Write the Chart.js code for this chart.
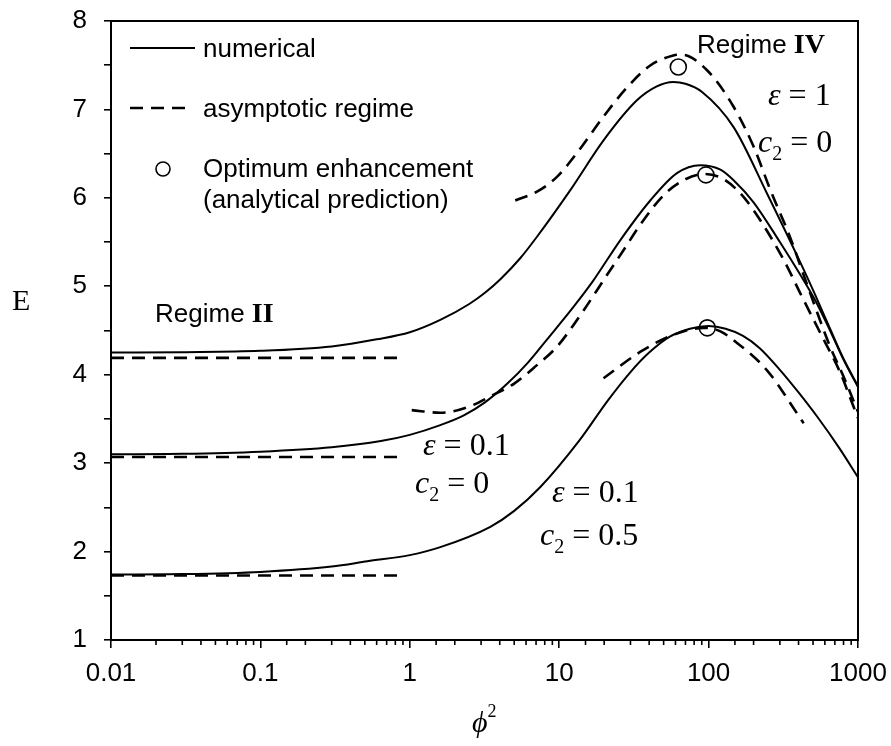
<!DOCTYPE html>
<html lang="en">
<head>
<meta charset="UTF-8">
<title>E vs phi^2</title>
<script src="https://cdn.jsdelivr.net/npm/chart.js@4.4.1/dist/chart.umd.min.js"></script>
<style>
    body { margin: 0; background: #fff; }
    .wrap { width: 891px; height: 746px; position: relative; }
</style>
</head>
<body>
<div class="wrap"><canvas id="chart"></canvas></div>
<script>
    // numerical solutions
    const numAx = [0.01, 0.03, 0.1, 0.3, 0.6, 1, 1.6, 2.5, 3.2, 4.04, 5.5, 7.1, 11.9, 19.8, 33, 45, 58, 70, 90, 147, 246, 411, 518, 650, 800, 1000]
    const numAy = [4.25, 4.255, 4.27, 4.32, 4.40, 4.48, 4.62, 4.80, 4.93, 5.08, 5.32, 5.56, 6.09, 6.65, 7.10, 7.26, 7.31, 7.29, 7.20, 6.80, 6.05, 5.27, 4.90, 4.52, 4.18, 3.87]
    const numBx = [0.01, 0.03, 0.1, 0.3, 0.64, 1, 1.6, 2.3, 3.2, 4.5, 6.2, 8.3, 12.5, 17, 25.6, 40.7, 61.4, 88, 120, 147, 200, 300, 411, 518, 650, 800, 1000]
    const numBy = [3.10, 3.105, 3.13, 3.18, 3.25, 3.32, 3.43, 3.54, 3.69, 3.90, 4.14, 4.40, 4.77, 5.07, 5.52, 5.97, 6.28, 6.37, 6.32, 6.20, 5.95, 5.50, 5.13, 4.84, 4.50, 4.17, 3.86]
    const numCx = [0.01, 0.03, 0.1, 0.3, 0.52, 1, 1.6, 3.46, 5, 7.48, 13.7, 21.2, 30, 40, 55, 75, 100, 130, 170, 220, 302, 400, 531, 750, 1000]
    const numCy = [1.74, 1.745, 1.77, 1.83, 1.89, 1.96, 2.05, 2.28, 2.46, 2.73, 3.26, 3.71, 4.03, 4.25, 4.43, 4.52, 4.55, 4.52, 4.44, 4.30, 4.05, 3.80, 3.53, 3.17, 2.84]

    // asymptotic regime II (small phi^2)
    const asyIIx = [0.01, 0.85]
    const asyIIAy = [4.19, 4.19]
    const asyIIBy = [3.07, 3.07]
    const asyIICy = [1.73, 1.73]

    // asymptotic regime IV
    const asyIVAx = [5.08, 7.1, 9.7, 13.6, 19.8, 28.5, 40.9, 58, 66, 98, 147, 200, 259, 352, 456, 650, 800, 1000]
    const asyIVAy = [5.97, 6.07, 6.24, 6.54, 6.92, 7.25, 7.50, 7.61, 7.62, 7.44, 7.03, 6.58, 6.09, 5.55, 5.02, 4.32, 3.98, 3.58]
    const asyIVBx = [1.03, 1.6, 2.5, 3.6, 5, 7, 9.7, 14.6, 20, 27, 35, 50, 70, 95, 120, 155, 200, 318, 411, 560, 762, 933, 1000]
    const asyIVBy = [3.60, 3.57, 3.64, 3.77, 3.90, 4.10, 4.32, 4.73, 5.08, 5.41, 5.70, 6.03, 6.21, 6.27, 6.23, 6.09, 5.86, 5.30, 4.92, 4.47, 4.02, 3.64, 3.51]
    const asyIVCx = [19.8, 35, 58, 92.7, 120, 147, 246, 433]
    const asyIVCy = [3.96, 4.26, 4.45, 4.53, 4.49, 4.39, 4.05, 3.45]

    // optimum enhancement (analytical prediction)
    const optX = [62.7, 96, 98]
    const optY = [7.48, 6.26, 4.53]

    const xTickValues = [0.01, 0.1, 1, 10, 100, 1000]
    const xTickLabels = ['0.01', '0.1', '1', '10', '100', '1000']
    const yTickLabels = ['1', '2', '3', '4', '5', '6', '7', '8']

    const SANS = '"Liberation Sans", Arial, sans-serif'
    const SERIF = '"Liberation Serif", "Times New Roman", serif'

    const pts = (xs, ys) => xs.map((x, i) => ({ x: x, y: ys[i] }))
    const decadeIndex = (v) => xTickValues.findIndex(t => Math.abs(Math.log10(v) - Math.log10(t)) < 1e-6)

    const solid = (xs, ys) => ({
        data: pts(xs, ys), showLine: true, borderColor: '#000', borderWidth: 2,
        pointRadius: 0, cubicInterpolationMode: 'monotone', fill: false
    })
    const dashed = (xs, ys) => ({
        data: pts(xs, ys), showLine: true, borderColor: '#000', borderWidth: 2.6,
        borderDash: [13, 8], pointRadius: 0, cubicInterpolationMode: 'monotone', fill: false
    })

    const drawRuns = (ctx, x, y, parts) => {
        parts.forEach(p => {
            ctx.font = p.f
            ctx.fillText(p.t, x, y + (p.dy || 0))
            x += ctx.measureText(p.t).width
        })
    }

    const eps = (ctx, x, y, val) => drawRuns(ctx, x, y, [
        { t: 'ε', f: 'italic 32px ' + SERIF },
        { t: ' = ' + val, f: '32px ' + SERIF }
    ])
    const c2 = (ctx, x, y, val) => drawRuns(ctx, x, y, [
        { t: 'c', f: 'italic 32px ' + SERIF },
        { t: '2', f: '20px ' + SERIF, dy: 8 },
        { t: ' = ' + val, f: '32px ' + SERIF }
    ])

    const decorations = {
        id: 'decorations',
        afterDraw(chart) {
            const ctx = chart.ctx
            const a = chart.chartArea
            const xs = chart.scales.x
            ctx.save()
            ctx.strokeStyle = '#000'
            ctx.lineWidth = 2
            ctx.strokeRect(a.left, a.top, a.right - a.left, a.bottom - a.top)

            // short minor ticks on the log axis
            ctx.lineWidth = 1.6
            xs.ticks.forEach(t => {
                if (decadeIndex(t.value) >= 0) return
                const px = xs.getPixelForValue(t.value)
                ctx.beginPath(); ctx.moveTo(px, a.bottom); ctx.lineTo(px, a.bottom + 5); ctx.stroke()
            })

            // legend
            ctx.lineWidth = 2
            ctx.beginPath(); ctx.moveTo(130, 48); ctx.lineTo(195, 48); ctx.stroke()
            ctx.setLineDash([13, 8]); ctx.lineWidth = 2.6
            ctx.beginPath(); ctx.moveTo(130, 108); ctx.lineTo(185, 108); ctx.stroke()
            ctx.setLineDash([]); ctx.lineWidth = 1.6
            ctx.beginPath(); ctx.arc(163, 169, 7, 0, Math.PI * 2); ctx.stroke()

            ctx.fillStyle = '#000'
            ctx.textBaseline = 'alphabetic'
            ctx.textAlign = 'left'
            ctx.font = '26px ' + SANS
            ctx.fillText('numerical', 203, 57)
            ctx.fillText('asymptotic regime', 203, 117)
            ctx.fillText('Optimum enhancement', 203, 177)
            ctx.fillText('(analytical prediction)', 203, 208)

            drawRuns(ctx, 155, 322, [
                { t: 'Regime ', f: '26px ' + SANS },
                { t: 'II', f: 'bold 28px ' + SERIF }
            ])
            drawRuns(ctx, 697, 53, [
                { t: 'Regime ', f: '26px ' + SANS },
                { t: 'IV', f: 'bold 28px ' + SERIF }
            ])

            eps(ctx, 768, 105, '1')
            c2(ctx, 758, 152, '0')
            eps(ctx, 423, 455, '0.1')
            c2(ctx, 415, 493, '0')
            eps(ctx, 552, 502, '0.1')
            c2(ctx, 540, 545, '0.5')

            // axis titles
            ctx.font = '30px ' + SERIF
            ctx.fillText('E', 12, 310)
            drawRuns(ctx, 472, 732, [
                { t: 'ϕ', f: 'italic 30px ' + SERIF },
                { t: '2', f: '18px ' + SERIF, dy: -15 }
            ])
            ctx.restore()
        }
    }

    const chart = new Chart('chart', {
        type: 'scatter',
        data: {
            datasets: [
                solid(numAx, numAy),
                solid(numBx, numBy),
                solid(numCx, numCy),
                dashed(asyIIx, asyIIAy),
                dashed(asyIIx, asyIIBy),
                dashed(asyIIx, asyIICy),
                dashed(asyIVAx, asyIVAy),
                dashed(asyIVBx, asyIVBy),
                dashed(asyIVCx, asyIVCy),
                {
                    data: pts(optX, optY), showLine: false, pointStyle: 'circle',
                    pointRadius: 8, borderColor: '#000', borderWidth: 1.6,
                    backgroundColor: 'rgba(0,0,0,0)'
                }
            ]
        },
        options: {
            responsive: true,
            maintainAspectRatio: false,
            animation: false,
            layout: { padding: { top: 21, right: 33, left: 0, bottom: 0 } },
            plugins: { legend: { display: false }, tooltip: { enabled: false } },
            scales: {
                x: {
                    type: 'logarithmic',
                    min: 0.01,
                    max: 1000,
                    // fixed axis box, labels may overhang into the padding
                    afterFit: (s) => { s.height = 106; s.paddingLeft = 0; s.paddingRight = 0 },
                    grid: {
                        drawOnChartArea: false, drawTicks: true, tickLength: 8, lineWidth: 1.6,
                        tickColor: (c) => (c.tick && decadeIndex(c.tick.value) >= 0) ? '#000' : 'rgba(0,0,0,0)'
                    },
                    border: { display: true, color: '#000', width: 2 },
                    ticks: {
                        autoSkip: false, maxRotation: 0, padding: 10, color: '#000',
                        font: { family: SANS, size: 26 },
                        callback: (v) => {
                            const i = decadeIndex(v)
                            return i >= 0 ? xTickLabels[i] : ''
                        }
                    }
                },
                y: {
                    min: 1,
                    max: 8,
                    afterFit: (s) => { s.width = 111; s.paddingTop = 0; s.paddingBottom = 0 },
                    grid: { drawOnChartArea: false, drawTicks: true, tickLength: 7, color: '#000', lineWidth: 1.6 },
                    border: { display: true, color: '#000', width: 2 },
                    ticks: {
                        stepSize: 0.5, padding: 17, color: '#000',
                        font: { family: SANS, size: 26 },
                        callback: (v) => Number.isInteger(v) ? yTickLabels[v - 1] : ''
                    }
                }
            }
        },
        plugins: [decorations]
    })
</script>
</body>
</html>
